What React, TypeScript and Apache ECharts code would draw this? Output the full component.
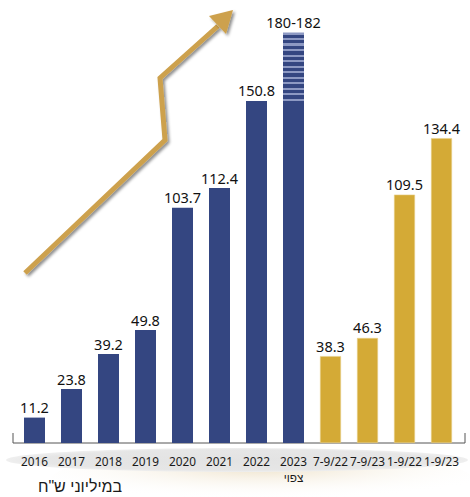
import React, { useEffect, useRef } from "react";
import * as echarts from "echarts";

const categories = ["2016", "2017", "2018", "2019", "2020", "2021", "2022", "2023", "7-9/22", "7-9/23", "1-9/22", "1-9/23"];
const annualValues: (number | string)[] = [11.2, 23.8, 39.2, 49.8, 103.7, 112.4, 150.8, 181, "-", "-", "-", "-"];
const periodValues: (number | string)[] = ["-", "-", "-", "-", "-", "-", "-", "-", 38.3, 46.3, 109.5, 134.4];
const projectedIndex = 7;
const projectedLabel = "180-182";
const projectedNote = "צפוי";
const unitText = "במיליוני ש\"ח";

const BLUE = "#344681";
const GOLD = "#D4AA36";
const ARROW = "#CDA14D";
const FONT = "'Noto Sans', 'Liberation Sans', 'DejaVu Sans', sans-serif";
const HEB_FONT = "'Liberation Sans', 'DejaVu Sans', sans-serif";

function stripeGradient() {
  const stops: { offset: number; color: string }[] = [];
  const n = 13;
  const zone = 0.175;
  const p = zone / n;
  for (let k = 0; k < n; k++) {
    const a = k * p;
    stops.push({ offset: a, color: "#8d99c3" });
    stops.push({ offset: a + p * 0.4, color: "#8d99c3" });
    stops.push({ offset: a + p * 0.4, color: BLUE });
    stops.push({ offset: a + p, color: BLUE });
  }
  stops.push({ offset: 1, color: BLUE });
  return new echarts.graphic.LinearGradient(0, 0, 0, 1, stops);
}

export default function App() {
  const ref = useRef<HTMLDivElement>(null);
  useEffect(() => {
    if (!ref.current) return;
    const chart = echarts.init(ref.current, undefined, { renderer: "svg" });
    const annualData = annualValues.map((v, i) =>
      i === projectedIndex ? { value: v, itemStyle: { color: stripeGradient() } } : v
    );
    const valueLabel = {
      show: true,
      position: "top",
      distance: 3,
      fontFamily: FONT,
      fontSize: 14.5,
      color: "#111",
    };
    chart.setOption({
      animation: false,
      grid: { left: 16, right: 10, top: 12, bottom: 54 },
      xAxis: {
        type: "category",
        data: categories,
        axisLine: { show: false },
        axisTick: { show: false },
        axisLabel: {
          interval: 0,
          margin: 10,
          fontFamily: FONT,
          fontSize: 11.8,
          lineHeight: 16,
          color: "#1a1a1a",
          formatter: (v: string) => (v === categories[projectedIndex] ? v + "\n" + projectedNote : v),
        },
      },
      yAxis: { type: "value", min: 0, max: 190, show: false, splitLine: { show: false } },
      graphic: [
        {
          type: "ellipse",
          z: -10,
          shape: { cx: 262, cy: 478, rx: 210, ry: 26 },
          style: {
            fill: new echarts.graphic.RadialGradient(0.5, 0.3, 0.6, [
              { offset: 0, color: "rgba(228,208,168,0.6)" },
              { offset: 1, color: "rgba(255,255,255,0)" },
            ]),
          },
        },
        {
          type: "ellipse",
          z: -5,
          shape: { cx: 237, cy: 460, rx: 231, ry: 12 },
          style: {
            fill: new echarts.graphic.RadialGradient(0.5, 0.5, 0.5, [
              { offset: 0, color: "#e3e3e3" },
              { offset: 0.85, color: "#e6e6e6" },
              { offset: 1, color: "#efefef" },
            ]),
          },
        },
        {
          type: "polyline",
          shape: { points: [[13, 433], [13, 443], [465, 443], [465, 433]] },
          style: { stroke: "#555", lineWidth: 1, fill: "none" },
        },
        {
          type: "polyline",
          shape: { points: [[25, 273], [165, 140], [160, 78], [218, 26]] },
          style: {
            stroke: ARROW,
            lineWidth: 5,
            fill: "none",
            lineJoin: "miter",
            shadowColor: "rgba(0,0,0,0.45)",
            shadowBlur: 3,
            shadowOffsetX: 2,
            shadowOffsetY: 2,
          },
        },
        {
          type: "polygon",
          shape: { points: [[233, 10], [209, 16], [226, 34]] },
          style: {
            fill: ARROW,
            shadowColor: "rgba(0,0,0,0.45)",
            shadowBlur: 3,
            shadowOffsetX: 2,
            shadowOffsetY: 2,
          },
        },
        {
          type: "text",
          x: 80,
          y: 486,
          style: {
            text: unitText,
            fontFamily: HEB_FONT,
            fontSize: 16,
            fill: "#1a1a1a",
            textAlign: "center",
            textVerticalAlign: "middle",
          },
        },
      ],
      series: [
        {
          type: "bar",
          stack: "all",
          barWidth: 21,
          data: annualData,
          itemStyle: { color: BLUE },
          label: {
            ...valueLabel,
            formatter: (p: any) => (p.dataIndex === projectedIndex ? projectedLabel : String(p.value)),
          },
        },
        {
          type: "bar",
          stack: "all",
          barWidth: 21,
          data: periodValues,
          itemStyle: { color: GOLD, borderColor: "#e8d08a", borderWidth: 0.6 },
          label: valueLabel,
        },
      ],
    });
    return () => chart.dispose();
  }, []);
  return <div ref={ref} style={{ position: "absolute", left: 0, top: 0, width: 470, height: 497 }} />;
}
